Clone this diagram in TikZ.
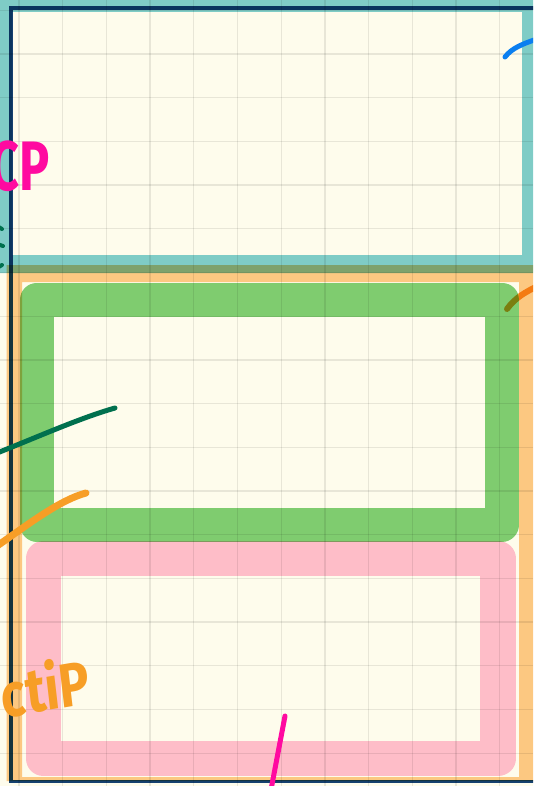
\documentclass[tikz,border=0pt]{standalone}
\usepackage{fontspec}
\setmainfont{Fira Sans}
\definecolor{cream}{RGB}{254,252,236}
\definecolor{bluefr}{RGB}{128,207,214}
\definecolor{orangefr}{RGB}{253,203,140}
\definecolor{greenfr}{RGB}{128,207,120}
\definecolor{pinkfr}{RGB}{255,192,217}
\definecolor{navy}{RGB}{22,66,122}
\definecolor{blueink}{RGB}{11,127,240}
\definecolor{magentaink}{RGB}{255,10,160}
\definecolor{orangeink}{RGB}{247,158,38}
\definecolor{greenink}{RGB}{0,112,78}
\tikzset{
  gridline/.style={black, opacity=0.085, line width=1.3},
  ink/.style={line width=5, line cap=round, line join=round},
  framestroke/.style={line join=round},
}
\begin{document}
\begin{tikzpicture}[x=1pt,y=-1pt]
\useasboundingbox (0,0) rectangle (533,786);
\clip (0,0) rectangle (533,786);
\fill[cream] (0,0) rectangle (533,786);
\begin{scope}[blend mode=multiply]
  \fill[bluefr, even odd rule] (-10,-10) rectangle (545,273) (12,12) rectangle (522,255);
  \fill[orangefr, even odd rule] (6.5,265) rectangle (545,781) (22,282) rectangle (519,777);
  \draw[orangeink, ink, line width=6] (507,309) .. controls (515,298) and (525,292) .. (540,285);
  \draw[greenfr, framestroke, line width=34] (37,299.5) rectangle (502,524.5);
  \draw[pinkfr, framestroke, line width=35.5] (43.5,558.5) rectangle (498,758.5);
  \draw[navy, line width=3.8] (545,7.8) -| (11,781.5) -- (545,781.5);
\end{scope}
\foreach \i in {0,...,11} \draw[gridline] ({19+43.7*\i},0) -- ({19+43.7*\i},786);
\foreach \j in {0,...,17} \draw[gridline] (0,{10.3+43.7*\j}) -- (533,{10.3+43.7*\j});
% ink strokes
\coordinate (b1) at (505,57);   \coordinate (b2) at (540,38);
\draw[blueink, ink] (b1) .. controls (512,48) and (522,44) .. (b2);
\coordinate (g1) at (-3,453);   \coordinate (g2) at (115,408);
\draw[greenink, ink] (g1) .. controls (40,436) and (80,418) .. (g2);
\coordinate (o1) at (-3,546);   \coordinate (o2) at (86,493);
\draw[orangeink, ink, line width=7] (o1) .. controls (30,523) and (60,500) .. (o2);
\coordinate (m1) at (285,716);  \coordinate (m2) at (270,795);
\draw[magentaink, ink] (m1) -- (m2);
\draw[greenink, ink, line width=4] (-3,226) -- (2,229);
\draw[greenink, ink, line width=4] (-3,244) -- (3,246);
\draw[greenink, ink, line width=4] (-3,268) -- (2,265);
% texts
\node[anchor=base east, inner sep=0pt, text=magentaink, font=\fontsize{70}{70}\selectfont\bfseries, xscale=0.72] (cp) at (50,191) {CP};
\node[anchor=base east, inner sep=0pt, text=orangeink, font=\fontsize{62}{62}\selectfont\bfseries, xscale=0.82, rotate=8] (ctip) at (92,703) {ctiP};
\end{tikzpicture}
\end{document}
